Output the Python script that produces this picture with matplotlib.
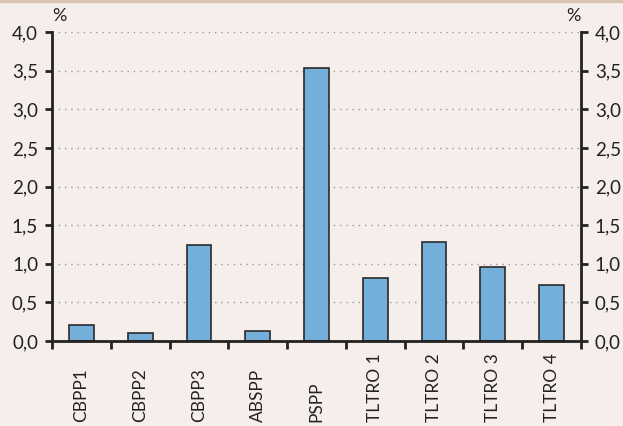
import matplotlib.pyplot as plt
import numpy as np

# data
categories = ['CBPP1', 'CBPP2', 'CBPP3', 'ABSPP', 'PSPP',
              'TLTRO 1', 'TLTRO 2', 'TLTRO 3', 'TLTRO 4']
values = [0.21, 0.10, 1.24, 0.13, 3.54, 0.81, 1.28, 0.96, 0.72]
yticks = [0.0, 0.5, 1.0, 1.5, 2.0, 2.5, 3.0, 3.5, 4.0]
yticklabels = ['0,0', '0,5', '1,0', '1,5', '2,0', '2,5', '3,0', '3,5', '4,0']

bg = '#f6eeea'
plt.rcParams['font.family'] = ['Lato', 'DejaVu Sans']

fig = plt.figure(figsize=(6.23, 4.26), dpi=100, facecolor=bg)
ax = fig.add_axes([52 / 623, 1 - 341 / 426, 529 / 623, 309 / 426])
ax.set_facecolor(bg)

x = np.arange(len(categories))
ax.bar(x, values, width=0.42, color='#74aedb', edgecolor='#2b2b2b',
       linewidth=1.2, zorder=3)

ax.set_xlim(-0.5, len(categories) - 0.5)
ax.set_ylim(0, 4.0)

# dotted grid, not on the baseline
for v in yticks[1:]:
    ax.axhline(v, color='#9a9a9a', linestyle=(0, (1, 3.5)), linewidth=1.0, zorder=1)

ax.spines['top'].set_visible(False)
for s in ['left', 'right', 'bottom']:
    ax.spines[s].set_linewidth(2)
    ax.spines[s].set_color('#222222')
    ax.spines[s].set_zorder(4)

ax.set_yticks(yticks)
ax.set_yticklabels(yticklabels)
ax.tick_params(axis='y', which='both', left=True, right=True, labelleft=True,
               labelright=True, direction='out', length=5, width=2,
               color='#222222', labelsize=13.5, labelcolor='#222222', pad=5)

# x ticks sit at the category boundaries
ax.set_xticks(np.arange(len(categories) + 1) - 0.5)
ax.set_xticklabels([])
ax.tick_params(axis='x', which='major', direction='out', length=6, width=2,
               color='#222222')

# category labels, rotated and aligned at their bottom ends
for xi, name in zip(x, categories):
    ax.text(xi, -81 / 309, name, transform=ax.get_xaxis_transform(),
            rotation=90, ha='center', va='bottom', fontsize=12.5,
            color='#222222')

ax.text(0.0, 1.025, '%', transform=ax.transAxes, ha='left', va='bottom',
        fontsize=13, color='#222222')
ax.text(1.0, 1.025, '%', transform=ax.transAxes, ha='right', va='bottom',
        fontsize=13, color='#222222')

# thin band along the top edge
fig.patches.append(plt.Rectangle((0, 1 - 2 / 426), 1, 2 / 426,
                                 transform=fig.transFigure,
                                 color='#d9c4b4', zorder=0))

fig.savefig('out.png', dpi=100, facecolor=bg)
